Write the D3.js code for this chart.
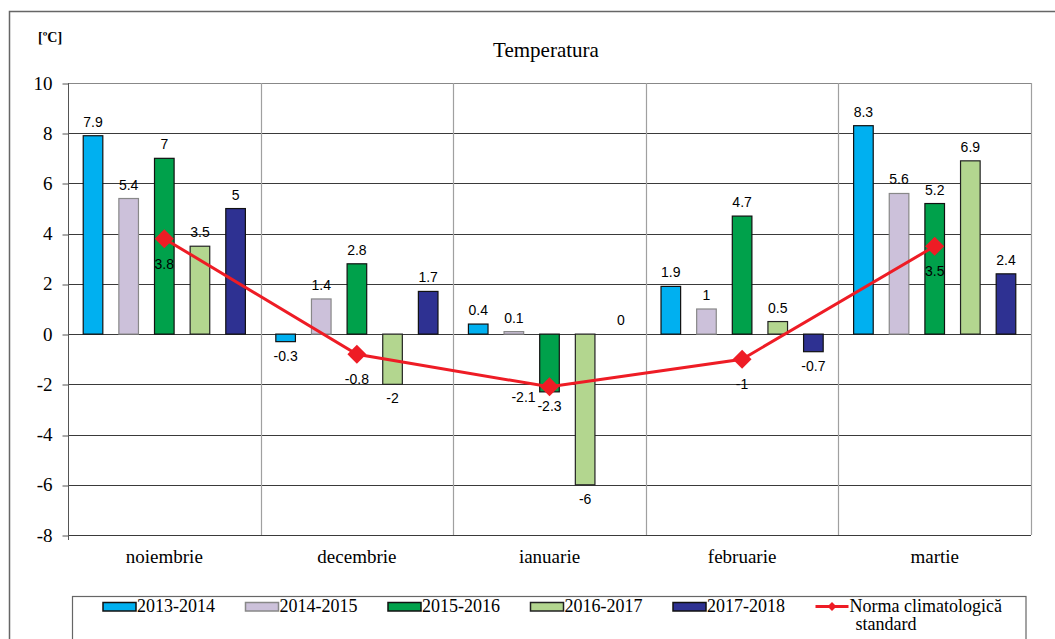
<!DOCTYPE html>
<html>
<head>
<meta charset="utf-8">
<script src="https://cdn.jsdelivr.net/npm/d3@7"></script>
<style>
  body { margin: 0; background: #fff; }
  svg { display: block; }
</style>
</head>
<body>
<div id="chartDiv"></div>
<script>
// Data
const months = ['noiembrie', 'decembrie', 'ianuarie', 'februarie', 'martie'];
const seasons = ['2013-2014', '2014-2015', '2015-2016', '2016-2017', '2017-2018'];
const v2013 = [7.9, -0.3, 0.4, 1.9, 8.3];
const v2014 = [5.4, 1.4, 0.1, 1, 5.6];
const v2015 = [7, 2.8, -2.3, 4.7, 5.2];
const v2016 = [3.5, -2, -6, 0.5, 6.9];
const v2017 = [5, 1.7, 0, -0.7, 2.4];
const norma = [3.8, -0.8, -2.1, -1, 3.5];
const yTickValues = [-8, -6, -4, -2, 0, 2, 4, 6, 8, 10];
const normaLabel = ['Norma climatologică', 'standard'];

const seriesValues = [v2013, v2014, v2015, v2016, v2017];
const colors = ['#00b0f0', '#ccc1da', '#00a14b', '#b3d68f', '#2e3192'];
const strokes = ['#111', '#888', '#111', '#222', '#111'];
const lineColor = '#ee1c25';

const SERIF = '"Liberation Serif", "Times New Roman", serif';
const SANS = '"Liberation Sans", Arial, sans-serif';

const W = 1055, H = 639;
const plot = { left: 68, right: 1031, top: 83, bottom: 535 };

const svg = d3.select('#chartDiv').append('svg').attr('width', W).attr('height', H);

// outer frame
svg.append('rect')
  .attr('x', 9.5).attr('y', 11.5).attr('width', 1060).attr('height', 660)
  .attr('fill', 'none').attr('stroke', '#666').attr('stroke-width', 1.5);

// scales
const x0 = d3.scaleBand().domain(months).range([plot.left, plot.right]).padding(0);
const x1 = d3.scaleBand().domain(seasons).range([0, x0.bandwidth()])
  .paddingInner(0.45).paddingOuter(0.427);
const y = d3.scaleLinear().domain([-8, 10]).range([plot.bottom, plot.top]);
const cy = v => Math.round(y(v)) + 0.5;

// title and unit
svg.append('text')
  .attr('x', 546).attr('y', 57).attr('text-anchor', 'middle')
  .style('font-family', SERIF).style('font-size', '21px').text('Temperatura');
svg.append('text')
  .attr('x', 38).attr('y', 42)
  .style('font-family', SERIF).style('font-size', '14px').style('font-weight', 'bold')
  .text('[ºC]');

// horizontal grid lines
const g = svg.append('g');
g.selectAll('line.grid').data(yTickValues).enter().append('line')
  .attr('class', 'grid')
  .attr('x1', plot.left).attr('x2', plot.right)
  .attr('y1', d => cy(d)).attr('y2', d => cy(d))
  .attr('stroke', d => d === 10 ? '#888' : '#3a3a3a').attr('stroke-width', 1);

// vertical category separators
const seps = months.map(m => x0(m)).slice(1).concat([plot.right]);
g.selectAll('line.sep').data(seps).enter().append('line')
  .attr('class', 'sep')
  .attr('x1', d => Math.round(d) + 0.5).attr('x2', d => Math.round(d) + 0.5)
  .attr('y1', plot.top).attr('y2', plot.bottom)
  .attr('stroke', '#a0a0a0').attr('stroke-width', 1.2);

// y axis
const yAxis = d3.axisLeft(y).tickValues(yTickValues).tickSize(6).tickPadding(10)
  .tickFormat(d => String(d));
const yAxisG = svg.append('g').attr('transform', `translate(${plot.left + 0.5},0)`).call(yAxis);
yAxisG.attr('font-family', null).attr('font-size', null);
yAxisG.select('.domain').attr('stroke', '#555').attr('d', `M0,${plot.top}V${plot.bottom + 5}`);
yAxisG.selectAll('.tick line').attr('stroke', '#555')
  .attr('transform', d => `translate(0,${cy(d) - y(d)})`);
yAxisG.selectAll('.tick text')
  .style('font-family', SERIF).style('font-size', '19px').attr('fill', '#000');

// x axis labels
const xAxis = d3.axisBottom(x0).tickSize(0).tickPadding(14.5);
const xAxisG = svg.append('g').attr('transform', `translate(0,${plot.bottom})`).call(xAxis);
xAxisG.attr('font-family', null).attr('font-size', null);
xAxisG.select('.domain').remove();
xAxisG.selectAll('.tick text')
  .style('font-family', SERIF).style('font-size', '19px').attr('fill', '#000');

// bars
const barData = [];
months.forEach((m, i) => {
  seasons.forEach((s, j) => {
    barData.push({ month: m, season: s, idx: j, value: seriesValues[j][i] });
  });
});

svg.append('g').selectAll('rect').data(barData).enter().append('rect')
  .attr('x', d => x0(d.month) + x1(d.season))
  .attr('y', d => d.value >= 0 ? y(d.value) : y(0))
  .attr('width', x1.bandwidth())
  .attr('height', d => Math.abs(y(d.value) - y(0)))
  .attr('fill', d => colors[d.idx])
  .attr('stroke', d => strokes[d.idx])
  .attr('stroke-width', 1.2);

svg.append('g').selectAll('text').data(barData).enter().append('text')
  .attr('x', d => x0(d.month) + x1(d.season) + x1.bandwidth() / 2)
  .attr('y', d => d.value >= 0 ? y(d.value) - 9 : y(d.value) + 19)
  .attr('text-anchor', 'middle')
  .style('font-family', SANS).style('font-size', '14px')
  .text(d => d.value);

// norma line
const mx = m => x0(m) + x0.bandwidth() / 2;
const line = d3.line().x((d, i) => mx(months[i])).y(d => y(d));
svg.append('path').datum(norma)
  .attr('d', line).attr('fill', 'none')
  .attr('stroke', lineColor).attr('stroke-width', 3);

const sym = d3.symbol().type(d3.symbolSquare).size(180);
svg.append('g').selectAll('path').data(norma).enter().append('path')
  .attr('d', sym)
  .attr('transform', (d, i) => `translate(${mx(months[i])},${y(d)}) rotate(45)`)
  .attr('fill', lineColor);

// label of the january point sits left, so it does not cover the -2.3 bar label
svg.append('g').selectAll('text').data(norma).enter().append('text')
  .attr('x', (d, i) => mx(months[i]) + (i === 2 ? -26 : 0))
  .attr('y', (d, i) => y(d) + (i === 2 ? 15 : 30))
  .attr('text-anchor', 'middle')
  .style('font-family', SANS).style('font-size', '14px')
  .text(d => d);

// legend
const legend = svg.append('g');
legend.append('rect')
  .attr('x', 72.5).attr('y', 596.5).attr('width', 953.5).attr('height', 80)
  .attr('fill', '#fff').attr('stroke', '#666').attr('stroke-width', 1.2);

const legX = i => 103 + i * 142.5;
seasons.forEach((s, i) => {
  legend.append('rect')
    .attr('x', legX(i)).attr('y', 602.5).attr('width', 33).attr('height', 8.5)
    .attr('fill', colors[i]).attr('stroke', strokes[i]).attr('stroke-width', 1.5);
  legend.append('text')
    .attr('x', legX(i) + 34).attr('y', 612)
    .style('font-family', SERIF).style('font-size', '18px').text(s);
});
const lx = legX(5);
legend.append('line')
  .attr('x1', lx).attr('x2', lx + 33).attr('y1', 606.5).attr('y2', 606.5)
  .attr('stroke', lineColor).attr('stroke-width', 3);
legend.append('path')
  .attr('d', d3.symbol().type(d3.symbolSquare).size(40))
  .attr('transform', `translate(${lx + 16.5},606.5) rotate(45)`)
  .attr('fill', lineColor);
legend.append('text')
  .attr('x', lx + 34).attr('y', 612)
  .style('font-family', SERIF).style('font-size', '18px').text(normaLabel[0]);
legend.append('text')
  .attr('x', lx + 40).attr('y', 630)
  .style('font-family', SERIF).style('font-size', '18px').text(normaLabel[1]);
</script>
</body>
</html>
